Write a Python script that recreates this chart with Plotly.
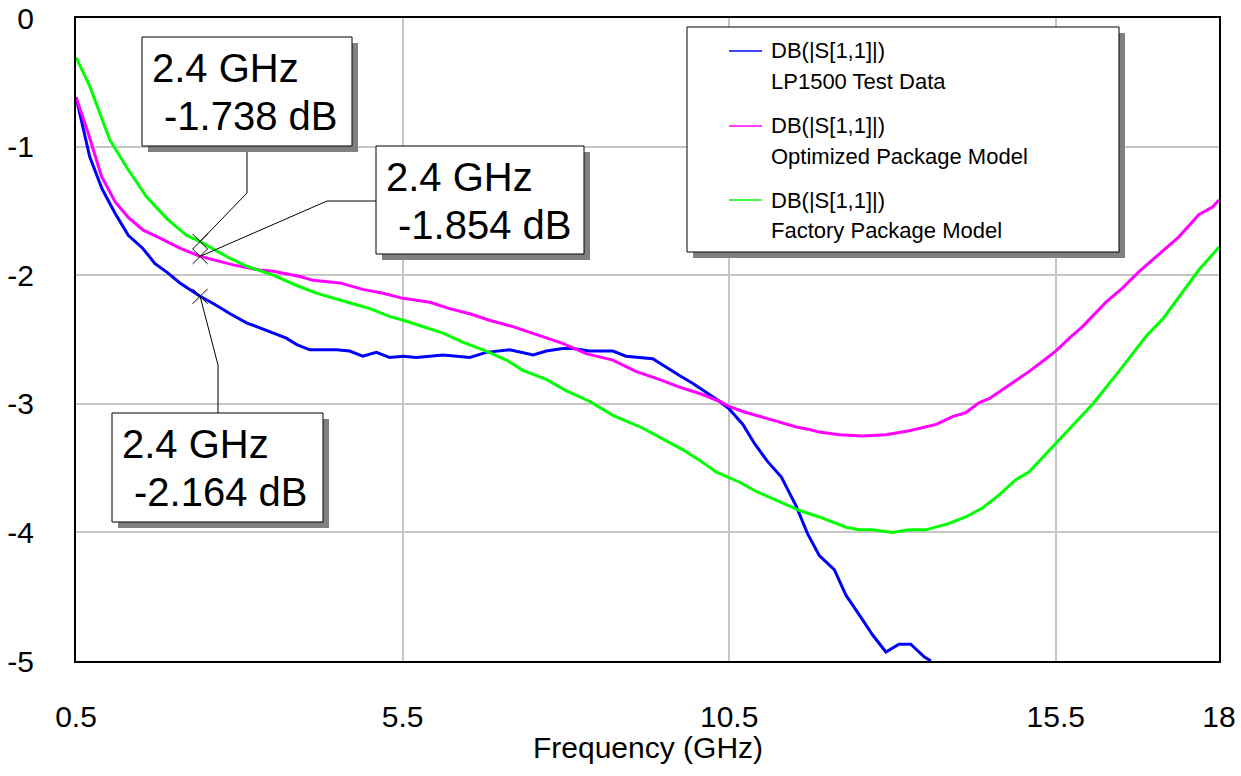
import plotly.graph_objects as go

# ---------------- data ----------------
freq_test = [0.5, 0.71, 0.9, 1.10, 1.30, 1.52, 1.71, 1.9, 2.09, 2.4, 2.6, 2.86, 3.11, 3.31, 3.52, 3.72,
             3.88, 4.08, 4.49, 4.69, 4.89, 5.10, 5.30, 5.51, 5.71, 6.12, 6.53, 6.78, 7.14, 7.50, 7.70,
             7.95, 8.11, 8.36, 8.72, 8.92, 9.33, 9.54, 9.74, 9.94, 10.20, 10.35, 10.5, 10.71, 10.89,
             11.09, 11.30, 11.53, 11.70, 11.88, 12.11, 12.29, 12.49, 12.70, 12.90, 13.10, 13.28,
             13.49, 13.59]
db_test = [-0.614, -1.08, -1.33, -1.52, -1.69, -1.79, -1.91, -1.98, -2.06, -2.164, -2.22, -2.30, -2.37,
           -2.41, -2.45, -2.49, -2.54, -2.58, -2.58, -2.59, -2.63, -2.60, -2.64, -2.63, -2.64, -2.62,
           -2.64, -2.60, -2.58, -2.62, -2.59, -2.57, -2.57, -2.59, -2.59, -2.63, -2.65, -2.72, -2.78,
           -2.84, -2.93, -2.98, -3.04, -3.16, -3.31, -3.45, -3.57, -3.80, -4.01, -4.18, -4.29, -4.49,
           -4.64, -4.80, -4.93, -4.87, -4.87, -4.97, -5.0]

freq_opt = [0.5, 0.69, 0.89, 1.10, 1.30, 1.53, 1.78, 2.09, 2.4, 2.91, 3.31, 3.52, 3.93, 4.13, 4.54, 4.89,
            5.20, 5.51, 5.92, 6.22, 6.53, 6.83, 7.19, 7.65, 7.95, 8.31, 8.72, 9.08, 9.43, 9.74, 10.05,
            10.35, 10.5, 10.71, 11.06, 11.53, 11.73, 11.88, 12.19, 12.54, 12.90, 13.26, 13.67, 13.92,
            14.12, 14.33, 14.48, 14.74, 15.09, 15.35, 15.50, 15.71, 15.91, 16.27, 16.52, 16.78, 17.19,
            17.39, 17.69, 17.90, 18.0]
db_opt = [-0.617, -0.90, -1.23, -1.43, -1.55, -1.65, -1.71, -1.79, -1.854, -1.92, -1.96, -1.97, -2.01,
          -2.04, -2.06, -2.11, -2.14, -2.18, -2.21, -2.26, -2.30, -2.35, -2.40, -2.48, -2.53, -2.61,
          -2.66, -2.75, -2.81, -2.87, -2.92, -2.98, -3.02, -3.06, -3.11, -3.18, -3.20, -3.22, -3.24,
          -3.25, -3.24, -3.21, -3.16, -3.10, -3.07, -2.99, -2.96, -2.87, -2.75, -2.65, -2.59, -2.49,
          -2.40, -2.21, -2.10, -1.97, -1.79, -1.70, -1.53, -1.47, -1.415]

freq_fac = [0.5, 0.71, 1.02, 1.30, 1.58, 1.89, 2.19, 2.4, 2.86, 3.11, 3.52, 3.88, 4.18, 4.54, 4.79, 5.0,
            5.30, 5.51, 5.81, 6.12, 6.42, 6.78, 7.09, 7.34, 7.70, 8.01, 8.36, 8.72, 9.18, 9.5, 9.8,
            10.05, 10.30, 10.66, 10.91, 11.27, 11.58, 11.88, 12.29, 12.49, 12.70, 13.0, 13.26, 13.51,
            13.87, 14.12, 14.38, 14.63, 14.89, 15.09, 15.35, 15.50, 15.71, 16.07, 16.48, 16.89, 17.14,
            17.39, 17.69, 17.90, 18.0]
db_fac = [-0.306, -0.53, -0.95, -1.18, -1.39, -1.56, -1.69, -1.738, -1.87, -1.93, -2.0, -2.08, -2.14,
          -2.19, -2.23, -2.26, -2.32, -2.35, -2.40, -2.45, -2.52, -2.59, -2.66, -2.74, -2.81, -2.90,
          -2.98, -3.09, -3.19, -3.28, -3.36, -3.44, -3.53, -3.61, -3.68, -3.76, -3.83, -3.88, -3.96,
          -3.98, -3.98, -4.0, -3.98, -3.98, -3.93, -3.88, -3.81, -3.71, -3.59, -3.53, -3.39, -3.31,
          -3.20, -3.0, -2.74, -2.47, -2.34, -2.17, -1.96, -1.84, -1.78]

series_line1 = ["DB(|S[1,1]|)", "DB(|S[1,1]|)", "DB(|S[1,1]|)"]
series_line2 = ["LP1500 Test Data", "Optimized Package Model", "Factory Package Model"]
series_colors = ["#0000FF", "#FF00FF", "#00FF00"]

marker_freq = [2.4, 2.4, 2.4]
marker_db = [-1.738, -1.854, -2.164]

x_tickvals = [0.5, 5.5, 10.5, 15.5, 18]
x_ticktext = ["0.5", "5.5", "10.5", "15.5", "18"]
y_tickvals = [0, -1, -2, -3, -4, -5]
y_ticktext = ["0", "-1", "-2", "-3", "-4", "-5"]
x_title = "Frequency (GHz)"

# ---------------- layout geometry ----------------
W, H = 1241, 776
L, R, T, B = 76, 1219, 18, 661
XMIN, XMAX, YMIN, YMAX = 0.5, 18.0, -5.0, 0.0
FONT = "Arial, 'Liberation Sans', sans-serif"


def px2x(p):
    return XMIN + (p - L) / (R - L) * (XMAX - XMIN)


def py2y(p):
    return YMAX - (p - T) / (B - T) * (YMAX - YMIN)


def ppx(p):
    return (p - L) / (R - L)


def ppy(p):
    return 1 - (p - T) / (B - T)


fig = go.Figure()
for fx, dy, col, n in zip([freq_test, freq_opt, freq_fac], [db_test, db_opt, db_fac],
                          series_colors, series_line2):
    fig.add_trace(go.Scatter(x=fx, y=dy, mode="lines", name=n,
                             line=dict(color=col, width=3), showlegend=False))

fig.add_trace(go.Scatter(x=marker_freq, y=marker_db, mode="markers", showlegend=False,
                         marker=dict(symbol="x-thin-open", size=15, color="black",
                                     line=dict(color="black", width=1))))

shapes = []
annotations = []


def box(x0, y0, x1, y1):
    shapes.append(dict(type="rect", xref="paper", yref="paper", x0=ppx(x0 + 6), x1=ppx(x1 + 6),
                       y0=ppy(y0 + 6), y1=ppy(y1 + 6), fillcolor="#808080",
                       line=dict(width=0), layer="above"))
    shapes.append(dict(type="rect", xref="paper", yref="paper", x0=ppx(x0), x1=ppx(x1),
                       y0=ppy(y0), y1=ppy(y1), fillcolor="white",
                       line=dict(color="black", width=1), layer="above"))


def text(s, x, y, size, anchor="left"):
    annotations.append(dict(text=s, xref="paper", yref="paper", x=ppx(x), y=ppy(y),
                            xanchor=anchor, yanchor="middle", showarrow=False,
                            font=dict(family=FONT, size=size, color="black")))


# Legend (drawn manually to match the two-line entries)
box(687, 27, 1119, 252)
leg_rows = [(51, 82), (126, 156), (200, 230)]
for (ya, yb), l1, l2, col in zip(leg_rows, series_line1, series_line2, series_colors):
    shapes.append(dict(type="line", xref="paper", yref="paper", x0=ppx(729), x1=ppx(762),
                       y0=ppy(ya), y1=ppy(ya), line=dict(color=col, width=1.5), layer="above"))
    text(l1, 769, ya, 22)
    text(l2, 769, yb, 22)

# Marker readout boxes: (box pixels, leader pixel points on box side), per marker
readouts = [
    ((142, 37, 352, 146), [(247, 146), (247, 193)]),
    ((376, 146, 584, 254), [(376, 201), (327, 201)]),
    ((112, 413, 323, 522), [(218, 413), (218, 365)]),
]
for mi, (bx, pts) in enumerate(readouts):
    x0, y0, x1, y1 = bx
    fx, fy = marker_freq[mi], marker_db[mi]
    path = "M {},{} L {},{} L {},{}".format(px2x(pts[0][0]), py2y(pts[0][1]),
                                              px2x(pts[1][0]), py2y(pts[1][1]), fx, fy)
    shapes.append(dict(type="path", xref="x", yref="y", path=path,
                       line=dict(color="black", width=1), layer="above"))
    box(x0, y0, x1, y1)
    text("{} GHz".format(fx), x0 + 8, y0 + 31, 40)
    text("{:.3f} dB".format(fy), x0 + 20, y0 + 79, 40)

# x-axis title
text(x_title, (L + R) / 2, 748, 30, anchor="center")

fig.update_layout(
    width=W, height=H,
    margin=dict(l=L, r=W - R, t=T, b=H - B, pad=0, autoexpand=False),
    paper_bgcolor="white", plot_bgcolor="white",
    font=dict(family=FONT, size=30, color="black"),
    shapes=shapes, annotations=annotations,
    xaxis=dict(range=[XMIN, XMAX], tickvals=x_tickvals, ticktext=x_ticktext, automargin=False,
               showgrid=True, gridcolor="#c6c6c6", gridwidth=2, zeroline=False,
               showline=True, linecolor="black", linewidth=2, mirror=True,
               ticks="", ticklabelstandoff=28, tickfont=dict(size=30, family=FONT)),
    yaxis=dict(range=[YMIN, YMAX], tickvals=y_tickvals, ticktext=y_ticktext, automargin=False,
               showgrid=True, gridcolor="#c6c6c6", gridwidth=2, zeroline=False,
               showline=True, linecolor="black", linewidth=2, mirror=True,
               ticks="", ticklabelstandoff=34, tickfont=dict(size=30, family=FONT)),
)

fig.write_html("out.html")
